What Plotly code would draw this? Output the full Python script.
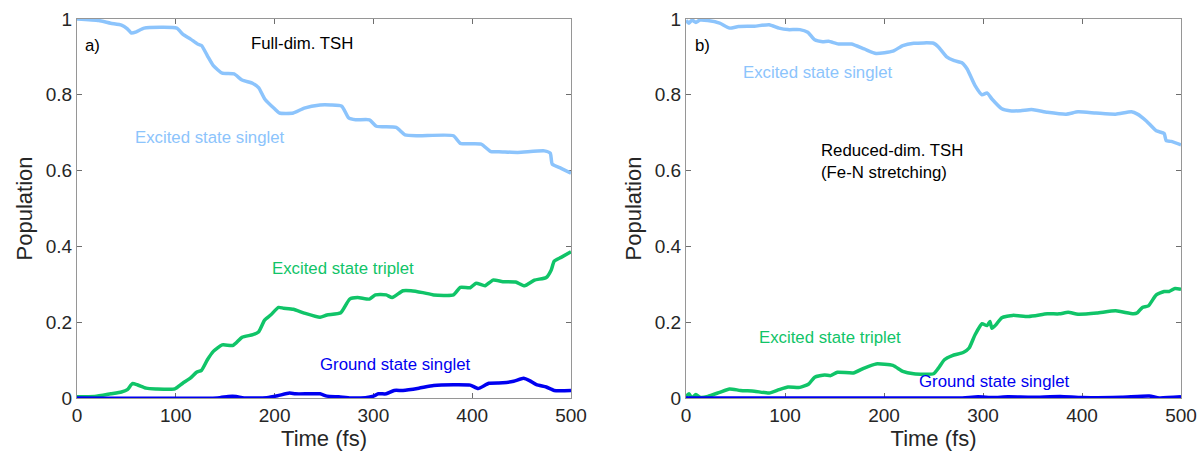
import plotly.graph_objects as go

# ---------------- data (panel a: full-dim TSH) ----------------
a_sing_t = [0, 22, 34, 45, 51, 55, 60, 68, 101, 107, 115, 122, 126, 132, 138, 147, 159, 167, 178, 184, 190,
            200, 205, 219, 230, 246, 257, 268, 275, 282, 296, 303, 323, 332, 346, 381, 388, 409, 419, 427,
            446, 473, 479, 481, 490, 500]
a_sing_v = [1.0, 0.996, 0.989, 0.984, 0.974, 0.963, 0.966, 0.976, 0.976, 0.96, 0.947, 0.934, 0.93, 0.903,
            0.877, 0.857, 0.855, 0.839, 0.83, 0.818, 0.789, 0.763, 0.752, 0.752, 0.765, 0.773, 0.773, 0.77,
            0.739, 0.734, 0.734, 0.717, 0.714, 0.694, 0.692, 0.692, 0.672, 0.67, 0.65, 0.65, 0.648, 0.652,
            0.646, 0.617, 0.606, 0.593]

a_trip_t = [0, 18, 34, 45, 51, 56, 61, 70, 80, 99, 107, 115, 121, 126, 132, 138, 147, 158, 167, 178, 184,
            190, 196, 204, 209, 219, 230, 246, 253, 267, 276, 284, 296, 302, 313, 319, 330, 338, 350, 361,
            381, 388, 398, 404, 413, 421, 431, 444, 453, 463, 475, 480, 483, 490, 500]
a_trip_v = [0.003, 0.004, 0.011, 0.016, 0.022, 0.038, 0.035, 0.026, 0.024, 0.024, 0.039, 0.053, 0.068,
            0.073, 0.101, 0.123, 0.14, 0.139, 0.16, 0.167, 0.175, 0.206, 0.219, 0.239, 0.237, 0.234, 0.224,
            0.213, 0.219, 0.225, 0.261, 0.265, 0.261, 0.272, 0.272, 0.265, 0.283, 0.283, 0.278, 0.272,
            0.272, 0.292, 0.291, 0.303, 0.296, 0.311, 0.307, 0.306, 0.296, 0.311, 0.318, 0.338, 0.361,
            0.371, 0.386]

a_gnd_t = [0, 142, 153, 161, 169, 192, 203, 215, 221, 234, 246, 253, 265, 277, 292, 300, 305, 313, 321,
           330, 346, 361, 381, 398, 406, 417, 431, 442, 452, 458, 465, 475, 483, 500]
a_gnd_v = [0.0, 0.0, 0.004, 0.004, 0.0, 0.001, 0.006, 0.013, 0.011, 0.011, 0.011, 0.005, 0.003, 0.0,
           0.001, 0.005, 0.011, 0.011, 0.02, 0.02, 0.026, 0.033, 0.035, 0.034, 0.025, 0.039, 0.04, 0.044,
           0.052, 0.046, 0.035, 0.029, 0.02, 0.02]

# ---------------- data (panel b: reduced-dim TSH) ----------------
b_sing_t = [0, 3, 6, 10, 14, 22, 34, 44, 53, 69, 84, 94, 103, 115, 123, 130, 138, 144, 154, 167, 180, 192,
            209, 219, 230, 250, 255, 263, 271, 279, 284, 292, 299, 304, 309, 319, 327, 338, 349, 365, 384,
            396, 414, 434, 450, 456, 465, 475, 483, 485, 490, 500]
b_sing_v = [0.996, 0.989, 0.997, 0.991, 0.997, 0.996, 0.989, 0.976, 0.98, 0.981, 0.985, 0.976, 0.972,
            0.972, 0.965, 0.945, 0.94, 0.941, 0.934, 0.934, 0.921, 0.909, 0.915, 0.93, 0.936, 0.936, 0.926,
            0.901, 0.89, 0.884, 0.868, 0.824, 0.8, 0.805, 0.789, 0.763, 0.758, 0.758, 0.761, 0.754, 0.749,
            0.755, 0.752, 0.749, 0.755, 0.749, 0.731, 0.705, 0.698, 0.679, 0.677, 0.668]

b_trip_t = [0, 3, 6, 10, 14, 22, 34, 44, 55, 69, 84, 94, 103, 115, 124, 130, 140, 146, 153, 169, 180, 192,
            209, 219, 230, 250, 255, 261, 269, 280, 286, 292, 299, 304, 307, 309, 313, 319, 330, 346, 365,
            377, 386, 396, 415, 434, 452, 456, 461, 467, 475, 483, 488, 494, 500]
b_trip_v = [0.004, 0.011, 0.0, 0.009, 0.002, 0.004, 0.015, 0.024, 0.02, 0.018, 0.013, 0.022, 0.029, 0.028,
            0.037, 0.055, 0.061, 0.059, 0.068, 0.066, 0.079, 0.09, 0.086, 0.07, 0.064, 0.064, 0.079, 0.101,
            0.112, 0.12, 0.132, 0.167, 0.196, 0.191, 0.202, 0.184, 0.193, 0.212, 0.218, 0.215, 0.222, 0.222,
            0.226, 0.221, 0.224, 0.23, 0.222, 0.225, 0.239, 0.243, 0.272, 0.281, 0.281, 0.289, 0.287]

b_gnd_t = [0, 275, 295, 310, 325, 350, 378, 400, 440, 468, 478, 500]
b_gnd_v = [0.0, 0.0, 0.003, 0.001, 0.003, 0.002, 0.004, 0.001, 0.002, 0.005, 0.0, 0.003]

x_ticks = [0, 100, 200, 300, 400, 500]
y_ticks = [0, 0.2, 0.4, 0.6, 0.8, 1]
y_tick_labels = ["0", "0.2", "0.4", "0.6", "0.8", "1"]

C_SING = "rgb(140,196,252)"
C_TRIP = "rgb(16,196,104)"
C_GND = "rgb(0,0,240)"
LW = 3.5
FONT = "Liberation Sans, Arial, sans-serif"
TXT = "rgb(38,38,38)"

fig = go.Figure()

def add(t, v, color, xa, ya):
    fig.add_trace(go.Scatter(x=t, y=v, mode="lines", xaxis=xa, yaxis=ya, cliponaxis=False,
                             line=dict(color=color, width=LW, shape="spline", smoothing=0.5),
                             showlegend=False, hoverinfo="skip"))

add(a_sing_t, a_sing_v, C_SING, "x", "y")
add(a_trip_t, a_trip_v, C_TRIP, "x", "y")
add(a_gnd_t, a_gnd_v, C_GND, "x", "y")
add(b_sing_t, b_sing_v, C_SING, "x2", "y2")
add(b_trip_t, b_trip_v, C_TRIP, "x2", "y2")
add(b_gnd_t, b_gnd_v, C_GND, "x2", "y2")

ax_common = dict(showline=True, linecolor="rgb(150,150,150)", linewidth=1, mirror="ticks",
                 ticks="inside", ticklen=5, tickcolor="rgb(110,110,110)", showgrid=False, zeroline=False,
                 automargin=False,
                 tickfont=dict(size=19, color=TXT, family=FONT), layer="below traces")

L, R, T, B = 77, 18, 18.5, 56.5
W = 1199 - L - R

fig.update_layout(
    width=1199, height=455, margin=dict(l=L, r=R, t=T, b=B, autoexpand=False),
    paper_bgcolor="white", plot_bgcolor="white",
    font=dict(family=FONT, color=TXT),
    xaxis=dict(domain=[0, 494 / W], range=[0, 500], tickvals=x_ticks, anchor="y",
               title=dict(text="Time (fs)", font=dict(size=22), standoff=2), **ax_common),
    yaxis=dict(domain=[0, 1], range=[0, 1], tickvals=y_ticks, ticktext=y_tick_labels, anchor="x",
               title=dict(text="Population", font=dict(size=22), standoff=7), **ax_common),
    xaxis2=dict(domain=[(686 - L) / W, 1], range=[0, 500], tickvals=x_ticks, anchor="y2",
                title=dict(text="Time (fs)", font=dict(size=22), standoff=2), **ax_common),
    yaxis2=dict(domain=[0, 1], range=[0, 1], tickvals=y_ticks, ticktext=y_tick_labels, anchor="x2",
                title=dict(text="Population", font=dict(size=22), standoff=7), **ax_common),
)

ANN = 16.8

def ann(xref, yref, x, y, text, color="black", size=ANN, xanchor="left"):
    fig.add_annotation(xref=xref, yref=yref, x=x, y=y, text=text, showarrow=False,
                       xanchor=xanchor, yanchor="middle", align="left",
                       font=dict(size=size, color=color, family=FONT))

ann("x", "y", 6, 0.93, "a)")
ann("x", "y", 228, 0.935, "Full-dim. TSH", xanchor="center")
ann("x", "y", 57, 0.688, "Excited state singlet", C_SING)
ann("x", "y", 195, 0.343, "Excited state triplet", C_TRIP)
ann("x", "y", 244, 0.088, "Ground state singlet", C_GND)

ann("x2", "y2", 7, 0.93, "b)")
ann("x2", "y2", 55.5, 0.859, "Excited state singlet", C_SING)
ann("x2", "y2", 134, 0.654, "Reduced-dim. TSH")
ann("x2", "y2", 134, 0.596, "(Fe-N stretching)")
ann("x2", "y2", 72, 0.159, "Excited state triplet", C_TRIP)
ann("x2", "y2", 233, 0.043, "Ground state singlet", C_GND)

fig.write_html("out.html", config={"displayModeBar": False},
               post_script="document.body.style.margin='0';")
